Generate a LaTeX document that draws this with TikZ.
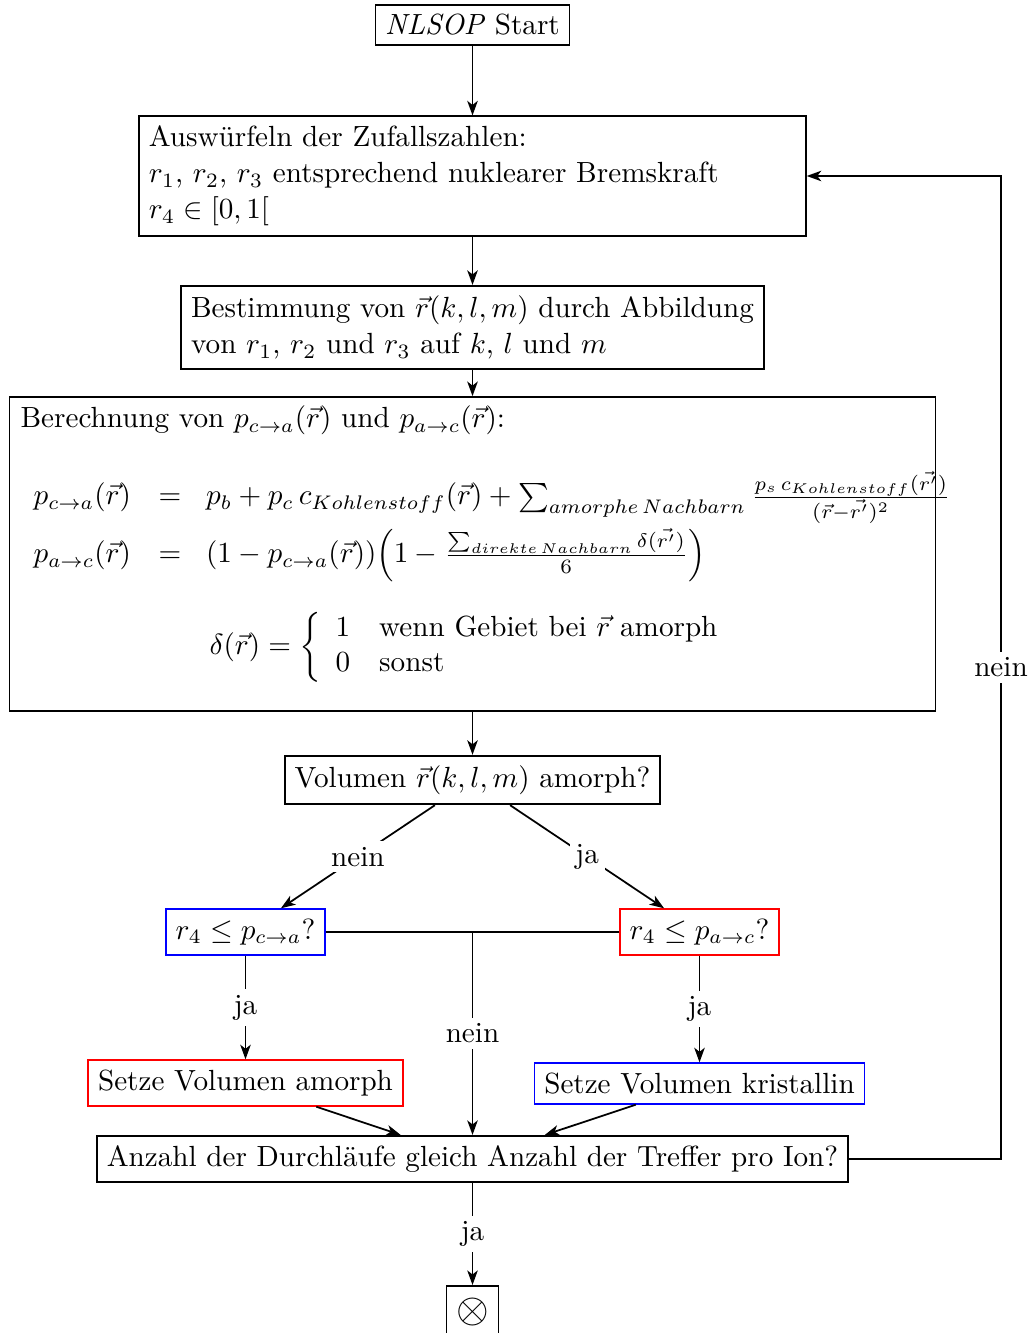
\documentclass[tikz,border=0pt]{standalone}
\usepackage{amsmath,amssymb}
\usetikzlibrary{arrows.meta,calc}
\DeclareFontShape{OML}{cmm}{m}{it}{<-6> cmmi5 <6-8> cmmi7 <8-> cmmi10}{}
\DeclareFontShape{OMS}{cmsy}{m}{n}{<-6> cmsy5 <6-8> cmsy7 <8-> cmsy10}{}
\DeclareMathSizes{10}{10}{6.75}{4.85}
\def\PXU{0.343pt}
\tikzset{
  box/.style={draw, semithick, fill=white},
  bluebox/.style={box, draw=blue},
  redbox/.style={box, draw=red},
  conn/.style={semithick},
  arr/.style={semithick, -{Stealth[length=5pt,width=3.6pt,inset=1.4pt]}},
  lbl/.style={fill=white, inner sep=2pt},
  plain/.style={inner sep=0pt}
}
\begin{document}
\begin{tikzpicture}[x=\PXU, y=-\PXU]
\useasboundingbox (0,0) rectangle (1033,1333);

\node[box] (start) at (472.5,25) {\textit{NLSOP} Start};
\node[box, text width=222pt, align=left] (wuerfel) at (472.5,176)
  {Auswürfeln der Zufallszahlen:\\[0.3pt]
   $r_1$, $r_2$, $r_3$ entsprechend nuklearer Bremskraft\\[0.3pt]
   $r_4 \in [0,1[$};
\node[box, align=left] (bestimm) at (472.5,327.5)
  {Bestimmung von $\vec r(k,l,m)$ durch Abbildung\\[0.5pt]
   von $r_1$, $r_2$ und $r_3$ auf $k$, $l$ und $m$};
\node[box, minimum width={926*\PXU}, minimum height={314*\PXU}] (berech) at (472.5,554) {};
\node[plain, anchor=base west] (bertitle) at (20,428)
  {Berechnung von $p_{c\to a}(\vec r)$ und $p_{a\to c}(\vec r)$:};
\node[plain, anchor=base west] (row1) at (33,505)
  {$p_{c\to a}(\vec r)$\hspace{9.5pt}$=$\hspace{8.5pt}$p_b + p_c\,c_{Kohlenstoff}(\vec r) + \sum_{amorphe\,Nachbarn} \frac{p_s\,c_{Kohlenstoff}(\vec{r'})}{(\vec r-\vec{r'})^2}$};
\node[plain, anchor=base west] (row2) at (33,563)
  {$p_{a\to c}(\vec r)$\hspace{9.5pt}$=$\hspace{8.5pt}$(1 - p_{c\to a}(\vec r))\!\left(1 - \frac{\sum_{direkte\,Nachbarn}\delta(\vec{r'})}{6}\right)$};
\node[plain] (deltadef) at (472.5,647)
  {$\delta(\vec r) = \left\{\begin{array}{ll} 1 & \mbox{wenn Gebiet bei $\vec r$ amorph}\\ 0 & \mbox{sonst}\end{array}\right.$};

\node[box] (vol) at (472.5,780) {Volumen $\vec r(k,l,m)$ amorph?};
\node[bluebox] (qca) at (245.5,932) {$r_4 \le p_{c\to a}$?};
\node[redbox] (qac) at (699.5,932) {$r_4 \le p_{a\to c}$?};
\node[redbox] (setam) at (245.5,1083) {Setze Volumen amorph};
\node[bluebox] (setkr) at (699.5,1083.5) {Setze Volumen kristallin};
\node[box] (anzahl) at (472.5,1159) {Anzahl der Durchläufe gleich Anzahl der Treffer pro Ion?};
\node[box, minimum width={51*\PXU}, minimum height={52*\PXU}, anchor=north] (ende) at (472.5,1285) {\Large$\otimes$};

\coordinate (junc) at ($(qca.east)!0.5!(qac.west)$);
\coordinate (loopr) at (1001,1159);
\coordinate (loopt) at (1001,176);

\draw[arr] (start) -- (wuerfel);
\draw[arr] (wuerfel) -- (bestimm);
\draw[arr] (bestimm) -- (berech);
\draw[arr] (berech) -- (vol);
\draw[arr] (vol) -- node[lbl] {nein} (qca);
\draw[arr] (vol) -- node[lbl] {ja} (qac);
\draw[arr] (qca) -- node[lbl] {ja} (setam);
\draw[arr] (qac) -- node[lbl] {ja} (setkr);
\draw[conn] (qca) -- (qac);
\draw[arr] (junc) -- node[lbl] {nein} (anzahl.north -| junc);
\draw[arr] (setam) -- (anzahl);
\draw[arr] (setkr) -- (anzahl);
\draw[arr] (anzahl) -- node[lbl] {ja} (ende);
\draw[arr] (anzahl.east) -- (loopr) -- node[lbl] {nein} (loopt) -- (wuerfel.east);
\end{tikzpicture}
\end{document}
